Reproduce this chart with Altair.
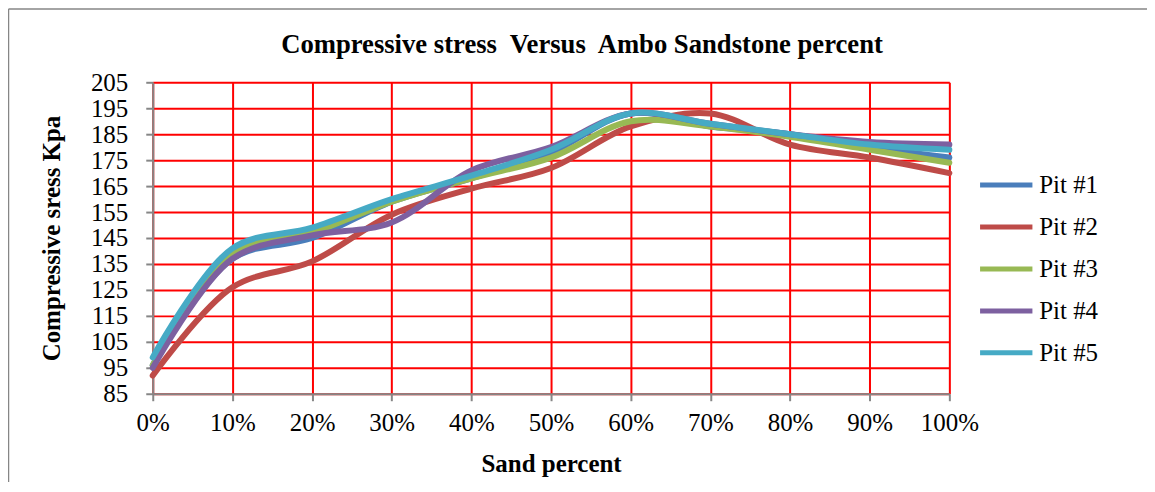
import altair as alt
import pandas as pd

sand = [0.0, 0.1, 0.2, 0.3, 0.4, 0.5, 0.6, 0.7, 0.8, 0.9, 1.0]
pit1 = [96, 137, 145, 159, 168, 178, 193, 188, 185, 180, 176]
pit2 = [92, 126, 136, 154, 164, 172, 188, 193, 181, 176, 170]
pit3 = [96, 139, 147, 159, 168, 176, 190, 188, 184, 179, 174]
pit4 = [95, 137, 146, 151, 171, 180, 193, 189, 185, 182, 181]
pit5 = [99, 141, 149, 160, 169, 179, 193, 189, 185, 181, 179]
series_names = ["Pit #1", "Pit #2", "Pit #3", "Pit #4", "Pit #5"]
series_colors = ["#4a7ebb", "#be4b48", "#98b954", "#7d60a0", "#46aac5"]
y_ticks = [85, 95, 105, 115, 125, 135, 145, 155, 165, 175, 185, 195, 205]
title_text = "Compressive stress\u00a0 Versus\u00a0 Ambo Sandstone percent"

rows = []
for name, vals in zip(series_names, [pit1, pit2, pit3, pit4, pit5]):
    for i, (s, v) in enumerate(zip(sand, vals)):
        rows.append({"sand": s, "stress": v, "pit": name, "order": i})
df = pd.DataFrame(rows)

FONT = "Liberation Serif"

lines = alt.Chart(df).mark_line(strokeWidth=6, interpolate="catmull-rom",
                                strokeCap="round", strokeJoin="round").encode(
    x=alt.X("sand:Q",
            scale=alt.Scale(domain=[0, 1], nice=False, zero=False),
            axis=alt.Axis(values=sand, format=".0%", title="Sand percent",
                          labelOverlap=False, labelFlush=False,
                          labelFont=FONT, labelFontSize=25,
                          labelPadding=10, titlePadding=16)),
    y=alt.Y("stress:Q",
            scale=alt.Scale(domain=[85, 205], nice=False, zero=False),
            axis=alt.Axis(values=y_ticks, title="Compressive sress Kpa",
                          labelOverlap=False, labelFlush=False,
                          labelFont=FONT, labelFontSize=25,
                          labelPadding=18, titlePadding=26)),
    color=alt.Color("pit:N",
                    scale=alt.Scale(domain=series_names, range=series_colors),
                    legend=alt.Legend(title=None, orient="none", legendX=826, legendY=74,
                                      symbolType="stroke", symbolSize=2750,
                                      symbolStrokeWidth=5, labelOffset=4,
                                      rowPadding=0, labelFontSize=25, labelFont=FONT,
                                      labelColor="#000000")),
    order="order:Q",
)

one = alt.Data(values=[{"a": 1}])
left_edge = alt.Chart(one).mark_rule(stroke="#868686", strokeWidth=1.5, clip=False).encode(
    x=alt.value(-144.5), y=alt.value(-73.5), y2=alt.value(402),
)
top_edge = alt.Chart(one).mark_rule(stroke="#868686", strokeWidth=1.5, clip=False).encode(
    x=alt.value(-144.5), x2=alt.value(996), y=alt.value(-73.5),
)
title = alt.Chart(one).mark_text(
    text=title_text, font=FONT, fontSize=26.7, fontWeight="bold", color="#000000",
    align="center", baseline="middle", clip=False,
).encode(x=alt.value(430), y=alt.value(-37))

chart = alt.layer(left_edge, top_edge, title, lines).properties(
    width=798, height=312,
    autosize="none",
    padding={"left": 145, "top": 74, "right": 198, "bottom": 88},
).configure(font=FONT).configure_view(stroke="transparent").configure_axis(
    labelFont=FONT, labelFontSize=25, labelColor="#000000",
    titleFont=FONT, titleFontSize=25, titleFontWeight="bold", titleColor="#000000",
    gridColor="#ff0000", gridWidth=2, gridOpacity=1,
    domainColor="#868686", domainWidth=2,
    tickColor="#868686", tickWidth=2, tickSize=7,
)

chart.save("out.html", embed_options={"renderer": "svg", "actions": False})
